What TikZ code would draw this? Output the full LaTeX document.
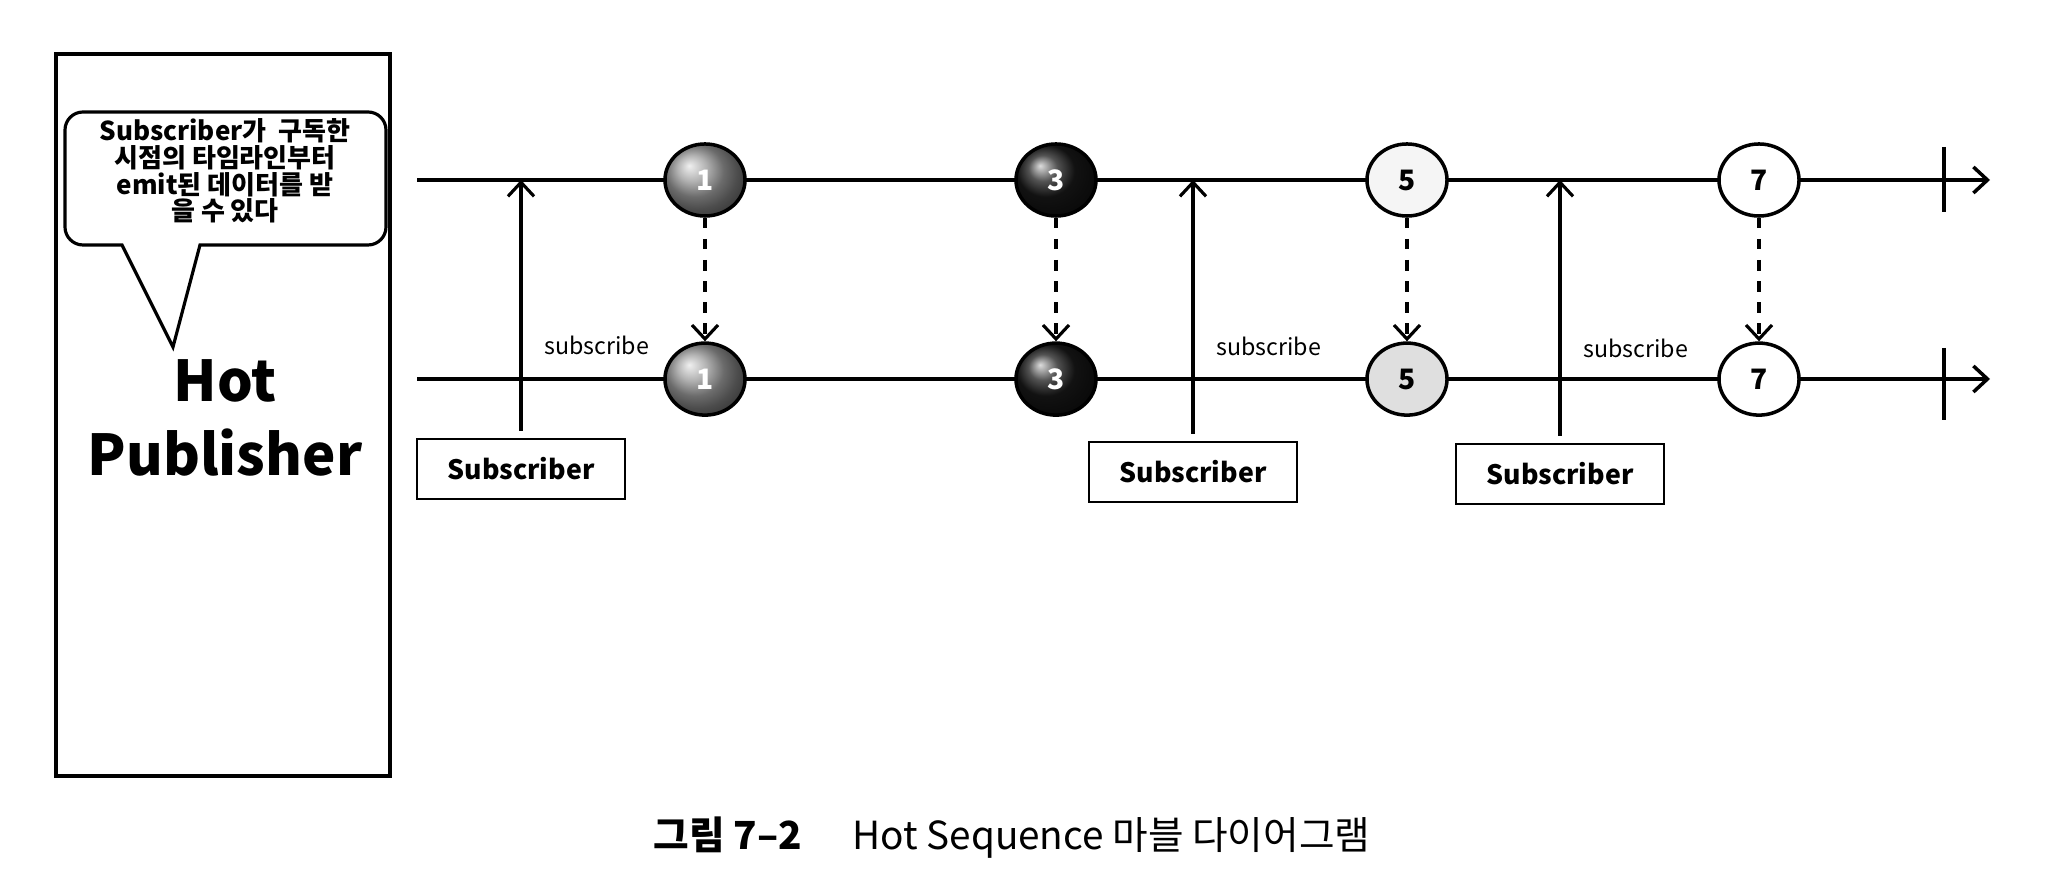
\documentclass[tikz,border=0pt]{standalone}
\usepackage{fontspec}
\setmainfont{Noto Sans CJK KR}
\usetikzlibrary{positioning,arrows.meta,shapes.geometric}

\begin{document}
\begin{tikzpicture}[
		x=0.01cm, y=-0.01cm,
		>={Straight Barb[length=1.4mm,width=2.6mm]},
		every node/.style={
			align=center
		},
		timeline/.style={line width=1pt},
		marble/.style={
			ellipse, draw, line width=1pt,
			minimum width=0.8cm, minimum height=0.72cm, inner sep=0pt,
			font=\fontsize{8}{8}\selectfont\bfseries
		},
		subbox/.style={
			draw, line width=0.7pt,
			minimum width=2.08cm, minimum height=0.6cm,
			font=\fontsize{7.6}{7.6}\selectfont\bfseries
		}
		]
		
		\useasboundingbox (0,0) rectangle (2054,880);
		
		%--------------------------------------------------
		% Hot Publisher
		%--------------------------------------------------
		
		\node[draw, line width=1.1pt, minimum width=3.33cm, minimum height=7.21cm]
		(pubbox) at (223,415) {};
		\node[font=\fontsize{16}{21}\selectfont\bfseries] (pub) at (225,418) {Hot\\Publisher};
		
		\draw[line width=0.9pt, fill=white]
		(122,245) [rounded corners=0.18cm] -- (65,245) -- (65,112) -- (386,112) -- (386,245)
		[sharp corners] -- (200,245) -- (173,347) -- cycle;
		\node[font=\fontsize{7.4}{7.6}\selectfont\bfseries] (note) at (225,171)
		{Subscriber가\ \ 구독한\\시점의 타임라인부터\\emit된 데이터를 받\\을 수 있다};
		
		%--------------------------------------------------
		% Timelines
		%--------------------------------------------------
		
		\coordinate (upstart) at (417,180);
		\coordinate (upend)   at (1990,180);
		\coordinate (lostart) at (417,379);
		\coordinate (loend)   at (1990,379);
		
		\draw[timeline,->] (upstart) -- (upend);
		\draw[timeline,->] (lostart) -- (loend);
		\draw[timeline] (1944,147) -- (1944,212);
		\draw[timeline] (1944,348) -- (1944,420);
		
		%--------------------------------------------------
		% Marbles
		%--------------------------------------------------
		
		\foreach \n/\xx/\col/\txt in {1/705/gray!80/white, 3/1056/black!90/white}
		{
			\node[marble, ball color=\col, text=\txt] (u\n) at (\xx,180) {\n};
			\node[marble, ball color=\col, text=\txt, on grid, below=1.99cm of u\n] (l\n) {\n};
		}
		\foreach \n/\xx/\col/\coll in {5/1407/gray!8/gray!25, 7/1759/white/white}
		{
			\node[marble, fill=\col] (u\n) at (\xx,180) {\n};
			\node[marble, fill=\coll, on grid, below=1.99cm of u\n] (l\n) {\n};
		}
		
		\foreach \n in {1,3,5,7}
		{
			\draw[->, dashed, line width=0.9pt] (u\n) -- (l\n);
		}
		
		%--------------------------------------------------
		% Subscribers
		%--------------------------------------------------
		
		\node[subbox] (sub1) at (521,469) {Subscriber};
		\node[subbox] (sub2) at (1193,472) {Subscriber};
		\node[subbox] (sub3) at (1560,474) {Subscriber};
		
		\foreach \s in {sub1,sub2,sub3}
		{
			\draw[->, line width=0.9pt, shorten <=0.07cm]
			(\s.north)
			--
			node[pos=0.36, right=0.1cm, font=\fontsize{6.6}{6.6}\selectfont]{subscribe}
			(\s.north |- upstart);
		}
		
		%--------------------------------------------------
		% Caption
		%--------------------------------------------------
		
		\node[font=\fontsize{11}{11}\selectfont] (cap) at (1012,838)
		{{\bfseries 그림 7–2}\hspace{1.3em}Hot Sequence 마블 다이어그램};
		
	\end{tikzpicture}
\end{document}
